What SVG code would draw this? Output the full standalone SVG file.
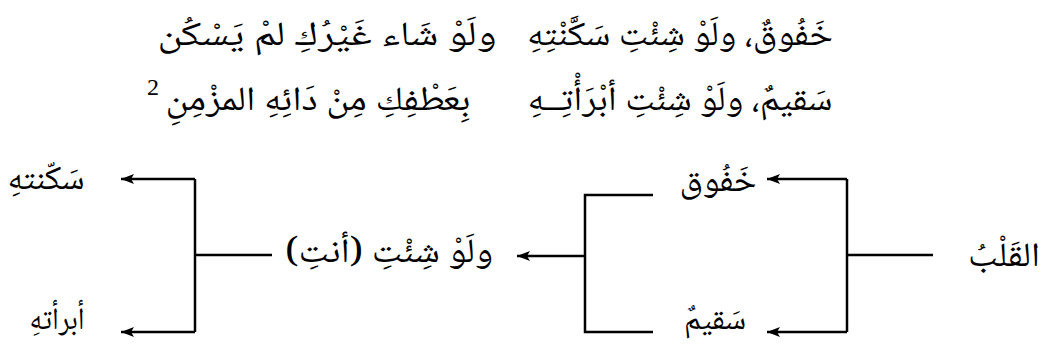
<svg xmlns="http://www.w3.org/2000/svg" width="1048" height="351" viewBox="0 0 1048 351">
<style>
.ar{font-family:"Noto Naskh Arabic","Amiri","Scheherazade New","DejaVu Sans",serif;font-size:34px;fill:#000;direction:rtl;text-anchor:middle}
.sm{font-size:31px}
.ln{fill:none;stroke:#000;stroke-width:2.5}
.num{font-family:"Liberation Serif",serif;font-size:24px;fill:#000}
</style>
<defs>
<marker id="ah" markerUnits="userSpaceOnUse" markerWidth="14" markerHeight="10" refX="13" refY="5" orient="auto">
<path d="M0,0 L13,5 L0,10 L3,5 Z" fill="#000"/>
</marker>
</defs>
<g id="verse">
<text class="ar" x="680" y="45" textLength="306" lengthAdjust="spacingAndGlyphs">خَفُوقٌ، ولَوْ شِئْتِ سَكَّنْتِهِ</text>
<text class="ar" x="327" y="45" textLength="339" lengthAdjust="spacingAndGlyphs">ولَوْ شَاء غَيْرُكِ لمْ يَسْكُن</text>
<text class="ar" x="680" y="110" textLength="305" lengthAdjust="spacingAndGlyphs">سَقيمٌ، ولَوْ شِئْتِ أبْرَأْتِــهِ</text>
<text class="ar" x="318" y="110" textLength="305" lengthAdjust="spacingAndGlyphs">بِعَطْفِكِ مِنْ دَائِهِ المزْمِنِ</text>
<text class="num" x="147" y="95">2</text>
</g>
<g id="qalb"><text class="ar" x="1004" y="266" textLength="72" lengthAdjust="spacingAndGlyphs">القَلْبُ</text></g>
<g id="khafuq"><text class="ar" x="718" y="191" textLength="77" lengthAdjust="spacingAndGlyphs">خَفُوق</text></g>
<g id="saqim"><text class="ar sm" x="715" y="329" textLength="62" lengthAdjust="spacingAndGlyphs">سَقيمٌ</text></g>
<g id="law"><text class="ar" x="389" y="262" textLength="208" lengthAdjust="spacingAndGlyphs">ولَوْ شِئْتِ (أنتِ)</text></g>
<g id="sakkantih"><text class="ar" x="46" y="189" textLength="77" lengthAdjust="spacingAndGlyphs">سَكّنتهِ</text></g>
<g id="abra"><text class="ar sm" x="57" y="329" textLength="55" lengthAdjust="spacingAndGlyphs">أبرأتهِ</text></g>
<g id="connectors">
<path class="ln" d="M933,255 H847"/>
<path class="ln" d="M847,179 V332"/>
<path class="ln" d="M847,179 H767" marker-end="url(#ah)"/>
<path class="ln" d="M847,332 H767" marker-end="url(#ah)"/>
<path class="ln" d="M653,195 H585 V332 H653"/>
<path class="ln" d="M585,256 H517" marker-end="url(#ah)"/>
<path class="ln" d="M272,255 H195"/>
<path class="ln" d="M195,179 V332"/>
<path class="ln" d="M195,179 H121" marker-end="url(#ah)"/>
<path class="ln" d="M195,332 H121" marker-end="url(#ah)"/>
</g>
</svg>
